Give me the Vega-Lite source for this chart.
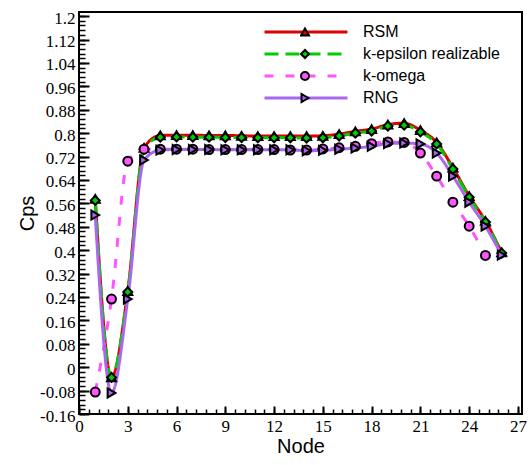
{
  "$schema": "https://vega.github.io/schema/vega-lite/v6.json",
  "width": 443,
  "height": 402,
  "autosize": {"type": "none"},
  "padding": {"left": 79, "top": 12, "right": 6, "bottom": 51},
  "background": "white",
  "config": {
    "view": {"stroke": "black", "strokeWidth": 2},
    "axis": {"grid": false}
  },
  "data": {"values": [
    {"model": "RSM", "node": 1, "cps": 0.575},
    {"model": "RSM", "node": 2, "cps": -0.035},
    {"model": "RSM", "node": 3, "cps": 0.26},
    {"model": "RSM", "node": 4, "cps": 0.75},
    {"model": "RSM", "node": 5, "cps": 0.792},
    {"model": "RSM", "node": 6, "cps": 0.793},
    {"model": "RSM", "node": 7, "cps": 0.793},
    {"model": "RSM", "node": 8, "cps": 0.792},
    {"model": "RSM", "node": 9, "cps": 0.792},
    {"model": "RSM", "node": 10, "cps": 0.791},
    {"model": "RSM", "node": 11, "cps": 0.79},
    {"model": "RSM", "node": 12, "cps": 0.79},
    {"model": "RSM", "node": 13, "cps": 0.79},
    {"model": "RSM", "node": 14, "cps": 0.79},
    {"model": "RSM", "node": 15, "cps": 0.791},
    {"model": "RSM", "node": 16, "cps": 0.797},
    {"model": "RSM", "node": 17, "cps": 0.806},
    {"model": "RSM", "node": 18, "cps": 0.814},
    {"model": "RSM", "node": 19, "cps": 0.829},
    {"model": "RSM", "node": 20, "cps": 0.834},
    {"model": "RSM", "node": 21, "cps": 0.81},
    {"model": "RSM", "node": 22, "cps": 0.768},
    {"model": "RSM", "node": 23, "cps": 0.682},
    {"model": "RSM", "node": 24, "cps": 0.585},
    {"model": "RSM", "node": 25, "cps": 0.5},
    {"model": "RSM", "node": 26, "cps": 0.392},
    {"model": "k-epsilon realizable", "node": 1, "cps": 0.57},
    {"model": "k-epsilon realizable", "node": 2, "cps": -0.035},
    {"model": "k-epsilon realizable", "node": 3, "cps": 0.257},
    {"model": "k-epsilon realizable", "node": 4, "cps": 0.745},
    {"model": "k-epsilon realizable", "node": 5, "cps": 0.786},
    {"model": "k-epsilon realizable", "node": 6, "cps": 0.787},
    {"model": "k-epsilon realizable", "node": 7, "cps": 0.786},
    {"model": "k-epsilon realizable", "node": 8, "cps": 0.786},
    {"model": "k-epsilon realizable", "node": 9, "cps": 0.785},
    {"model": "k-epsilon realizable", "node": 10, "cps": 0.785},
    {"model": "k-epsilon realizable", "node": 11, "cps": 0.784},
    {"model": "k-epsilon realizable", "node": 12, "cps": 0.784},
    {"model": "k-epsilon realizable", "node": 13, "cps": 0.784},
    {"model": "k-epsilon realizable", "node": 14, "cps": 0.783},
    {"model": "k-epsilon realizable", "node": 15, "cps": 0.784},
    {"model": "k-epsilon realizable", "node": 16, "cps": 0.79},
    {"model": "k-epsilon realizable", "node": 17, "cps": 0.8},
    {"model": "k-epsilon realizable", "node": 18, "cps": 0.807},
    {"model": "k-epsilon realizable", "node": 19, "cps": 0.824},
    {"model": "k-epsilon realizable", "node": 20, "cps": 0.827},
    {"model": "k-epsilon realizable", "node": 21, "cps": 0.804},
    {"model": "k-epsilon realizable", "node": 22, "cps": 0.763},
    {"model": "k-epsilon realizable", "node": 23, "cps": 0.677},
    {"model": "k-epsilon realizable", "node": 24, "cps": 0.581},
    {"model": "k-epsilon realizable", "node": 25, "cps": 0.496},
    {"model": "k-epsilon realizable", "node": 26, "cps": 0.39},
    {"model": "k-omega", "node": 1, "cps": -0.085},
    {"model": "k-omega", "node": 2, "cps": 0.233},
    {"model": "k-omega", "node": 3, "cps": 0.704},
    {"model": "k-omega", "node": 4, "cps": 0.745},
    {"model": "k-omega", "node": 5, "cps": 0.745},
    {"model": "k-omega", "node": 6, "cps": 0.745},
    {"model": "k-omega", "node": 7, "cps": 0.745},
    {"model": "k-omega", "node": 8, "cps": 0.744},
    {"model": "k-omega", "node": 9, "cps": 0.744},
    {"model": "k-omega", "node": 10, "cps": 0.744},
    {"model": "k-omega", "node": 11, "cps": 0.744},
    {"model": "k-omega", "node": 12, "cps": 0.744},
    {"model": "k-omega", "node": 13, "cps": 0.742},
    {"model": "k-omega", "node": 14, "cps": 0.742},
    {"model": "k-omega", "node": 15, "cps": 0.746},
    {"model": "k-omega", "node": 16, "cps": 0.75},
    {"model": "k-omega", "node": 17, "cps": 0.755},
    {"model": "k-omega", "node": 18, "cps": 0.764},
    {"model": "k-omega", "node": 19, "cps": 0.77},
    {"model": "k-omega", "node": 20, "cps": 0.768},
    {"model": "k-omega", "node": 21, "cps": 0.732},
    {"model": "k-omega", "node": 22, "cps": 0.653},
    {"model": "k-omega", "node": 23, "cps": 0.564},
    {"model": "k-omega", "node": 24, "cps": 0.482},
    {"model": "k-omega", "node": 25, "cps": 0.382},
    {"model": "RNG", "node": 1, "cps": 0.52},
    {"model": "RNG", "node": 2, "cps": -0.088},
    {"model": "RNG", "node": 3, "cps": 0.233},
    {"model": "RNG", "node": 4, "cps": 0.708},
    {"model": "RNG", "node": 5, "cps": 0.742},
    {"model": "RNG", "node": 6, "cps": 0.744},
    {"model": "RNG", "node": 7, "cps": 0.744},
    {"model": "RNG", "node": 8, "cps": 0.744},
    {"model": "RNG", "node": 9, "cps": 0.743},
    {"model": "RNG", "node": 10, "cps": 0.743},
    {"model": "RNG", "node": 11, "cps": 0.743},
    {"model": "RNG", "node": 12, "cps": 0.743},
    {"model": "RNG", "node": 13, "cps": 0.743},
    {"model": "RNG", "node": 14, "cps": 0.74},
    {"model": "RNG", "node": 15, "cps": 0.741},
    {"model": "RNG", "node": 16, "cps": 0.745},
    {"model": "RNG", "node": 17, "cps": 0.749},
    {"model": "RNG", "node": 18, "cps": 0.755},
    {"model": "RNG", "node": 19, "cps": 0.764},
    {"model": "RNG", "node": 20, "cps": 0.766},
    {"model": "RNG", "node": 21, "cps": 0.763},
    {"model": "RNG", "node": 22, "cps": 0.732},
    {"model": "RNG", "node": 23, "cps": 0.653},
    {"model": "RNG", "node": 24, "cps": 0.564},
    {"model": "RNG", "node": 25, "cps": 0.482},
    {"model": "RNG", "node": 26, "cps": 0.383}
  ]},
  "layer": [
    {
      "mark": {"type": "line", "strokeWidth": 3, "interpolate": "monotone"},
      "encoding": {
        "x": {
          "field": "node", "type": "quantitative",
          "scale": {"domain": [0, 27.25], "nice": false, "zero": false},
          "axis": {
            "orient": "bottom",
            "values": [0, 3, 6, 9, 12, 15, 18, 21, 24, 27],
            "labelExpr": "format(datum.value, '~g')",
            "title": "Node",
            "titleFont": "Liberation Sans", "titleFontSize": 20, "titleFontWeight": "normal", "titleColor": "black",
            "titleY": 32, "titleBaseline": "middle",
            "labelFont": "Liberation Serif", "labelFontSize": 17, "labelColor": "black",
            "labelFlush": false, "labelOverlap": false, "labelAngle": 0,
            "tickSize": -8, "tickWidth": 2, "tickColor": "black",
            "labelPadding": 12,
            "domain": false
          }
        },
        "y": {
          "field": "cps", "type": "quantitative",
          "scale": {"domain": [-0.16, 1.214], "nice": false, "zero": false},
          "axis": {
            "orient": "left",
            "values": [-0.16, -0.08, 0, 0.08, 0.16, 0.24, 0.32, 0.4, 0.48, 0.56, 0.64, 0.72, 0.8, 0.88, 0.96, 1.04, 1.12, 1.2],
            "labelExpr": "replace(format(datum.value, '~g'), '\u2212', '-')",
            "title": "Cps",
            "titleFont": "Liberation Sans", "titleFontSize": 20, "titleFontWeight": "normal", "titleColor": "black",
            "titleX": -52, "titleBaseline": "middle",
            "labelFont": "Liberation Serif", "labelFontSize": 17, "labelColor": "black",
            "labelFlush": false, "labelOverlap": false, "labelOffset": 2,
            "tickSize": -10, "tickWidth": 2, "tickColor": "black",
            "labelPadding": 14,
            "domain": false
          }
        },
        "color": {
          "field": "model", "type": "nominal",
          "scale": {"domain": ["RSM", "k-epsilon realizable", "k-omega", "RNG"], "range": ["#dd0000", "#00cc00", "#ff55ff", "#a966f0"]},
          "legend": {
            "orient": "none", "legendX": 184, "legendY": 9, "title": null, "padding": 0,
            "symbolType": "stroke", "symbolSize": 6889, "symbolStrokeWidth": 3,
            "clipHeight": 22, "rowPadding": 0,
            "labelFont": "Liberation Sans", "labelFontSize": 16, "labelColor": "black", "labelOffset": 14, "labelLimit": 300
          }
        },
        "strokeDash": {
          "field": "model", "type": "nominal",
          "scale": {"domain": ["RSM", "k-epsilon realizable", "k-omega", "RNG"], "range": [[1, 0], [14, 7], [9, 12], [1, 0]]},
          "legend": {
            "orient": "none", "legendX": 184, "legendY": 9, "title": null, "padding": 0,
            "symbolType": "stroke", "symbolSize": 6889, "symbolStrokeWidth": 3,
            "clipHeight": 22, "rowPadding": 0,
            "labelFont": "Liberation Sans", "labelFontSize": 16, "labelColor": "black", "labelOffset": 14, "labelLimit": 300
          }
        }
      }
    },
    {
      "transform": [{"filter": "datum.cps != null"}],
      "mark": {"type": "point", "filled": true, "stroke": "black", "strokeWidth": 2, "size": 80, "opacity": 1},
      "encoding": {
        "x": {
          "field": "node", "type": "quantitative",
          "axis": {
            "orient": "bottom",
            "values": [0,0.6,1.2,1.8,2.4,3,3.6,4.2,4.8,5.4,6,6.6,7.2,7.8,8.4,9,9.6,10.2,10.8,11.4,12,12.6,13.2,13.8,14.4,15,15.6,16.2,16.8,17.4,18,18.6,19.2,19.8,20.4,21,21.6,22.2,22.8,23.4,24,24.6,25.2,25.8,26.4,27],
            "labels": false, "title": null, "domain": false,
            "tickSize": -5, "tickWidth": 1.5, "tickColor": "black"
          }
        },
        "y": {
          "field": "cps", "type": "quantitative",
          "axis": {
            "orient": "left",
            "values": [-0.16,-0.144,-0.128,-0.112,-0.096,-0.08,-0.064,-0.048,-0.032,-0.016,0,0.016,0.032,0.048,0.064,0.08,0.096,0.112,0.128,0.144,0.16,0.176,0.192,0.208,0.224,0.24,0.256,0.272,0.288,0.304,0.32,0.336,0.352,0.368,0.384,0.4,0.416,0.432,0.448,0.464,0.48,0.496,0.512,0.528,0.544,0.56,0.576,0.592,0.608,0.624,0.64,0.656,0.672,0.688,0.704,0.72,0.736,0.752,0.768,0.784,0.8,0.816,0.832,0.848,0.864,0.88,0.896,0.912,0.928,0.944,0.96,0.976,0.992,1.008,1.024,1.04,1.056,1.072,1.088,1.104,1.12,1.136,1.152,1.168,1.184,1.2],
            "labels": false, "title": null, "domain": false,
            "tickSize": -6, "tickWidth": 1.5, "tickColor": "black"
          }
        },
        "fill": {
          "field": "model", "type": "nominal",
          "scale": {"domain": ["RSM", "k-epsilon realizable", "k-omega", "RNG", " "], "range": ["#dd0000", "#00cc00", "#ff55ff", "#a966f0", "transparent"]},
          "legend": {
            "orient": "none", "legendX": 221, "legendY": 9, "title": null, "padding": 0,
            "symbolSize": 64, "symbolStrokeColor": "black", "symbolStrokeWidth": 2, "symbolOpacity": 1,
            "clipHeight": 22, "rowPadding": 0, "labelExpr": "''",
            "encode": {"symbols": {"update": {"stroke": {"value": "black"}, "strokeWidth": {"value": 2}}}}
          }
        },
        "shape": {
          "field": "model", "type": "nominal",
          "scale": {"domain": ["RSM", "k-epsilon realizable", "k-omega", "RNG", " "], "range": ["triangle-up", "diamond", "circle", "triangle-right", "M0,0Z"]},
          "legend": {
            "orient": "none", "legendX": 221, "legendY": 9, "title": null, "padding": 0,
            "symbolSize": 64, "symbolStrokeColor": "black", "symbolStrokeWidth": 2, "symbolOpacity": 1,
            "clipHeight": 22, "rowPadding": 0, "labelExpr": "''",
            "encode": {"symbols": {"update": {"stroke": {"value": "black"}, "strokeWidth": {"value": 2}}}}
          }
        }
      }
    }
  ],
  "resolve": {"axis": {"x": "independent", "y": "independent"}}
}
